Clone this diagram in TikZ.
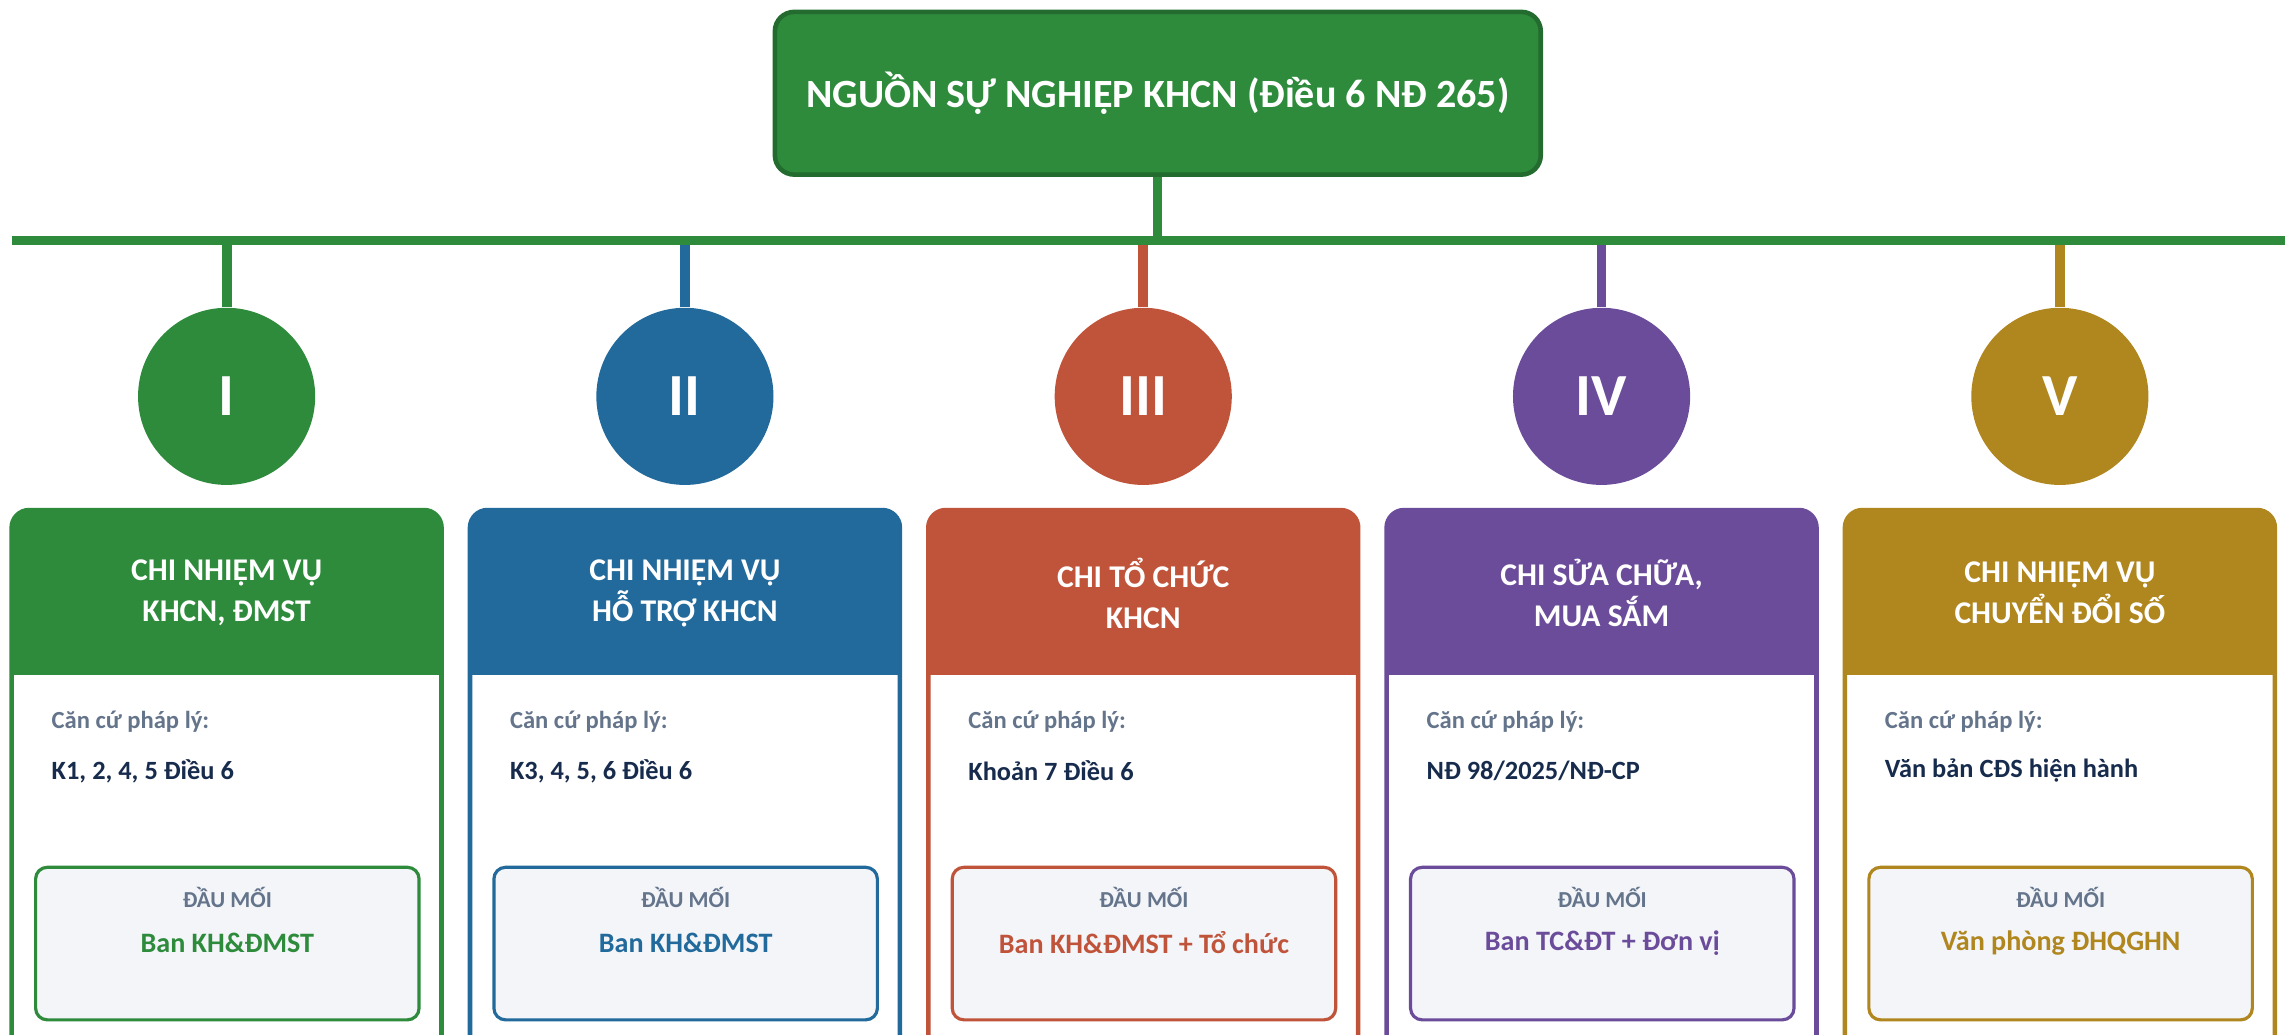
\documentclass[tikz,border=0pt]{standalone}
\usepackage{fontspec}
\setmainfont{Carlito}
\definecolor{cgreen}{HTML}{2E8B3C}
\definecolor{cgreendark}{HTML}{236B2E}
\definecolor{cblue}{HTML}{226A9B}
\definecolor{cred}{HTML}{C0543A}
\definecolor{cpurple}{HTML}{6B4C9A}
\definecolor{cgold}{HTML}{B0861E}
\definecolor{slate}{HTML}{64748B}
\definecolor{navy}{HTML}{172B4D}
\definecolor{boxbg}{HTML}{F3F5F9}
\tikzset{
  titlebox/.style={draw=cgreendark, fill=cgreen, line width=1.3pt, rounded corners=5.5pt,
    minimum width=217.9pt, minimum height=46.3pt, text=white,
    font=\bfseries\fontsize{11.4}{13.7}\selectfont},
  busline/.style={cgreen, line width=2.6pt},
  stubline/.style={line width=2.8pt},
  numcircle/.style={circle, minimum size=50.4pt, inner sep=0pt, text=white,
    font=\bfseries\fontsize{17}{20}\selectfont},
  headtext/.style={text=white, align=center, font=\bfseries\fontsize{9}{11.6}\selectfont},
  basislbl/.style={anchor=west, text=slate, inner sep=0pt, font=\bfseries\fontsize{7}{8.5}\selectfont},
  basistxt/.style={anchor=west, text=navy, inner sep=0pt, font=\bfseries\fontsize{7.5}{9}\selectfont},
  dmbox/.style={fill=boxbg, line width=0.9pt, rounded corners=3.3pt,
    minimum width=109.1pt, minimum height=43.4pt, inner sep=0pt},
  dmlbl/.style={text=slate, inner sep=0pt, font=\bfseries\fontsize{6.5}{8}\selectfont},
  dmtxt/.style={inner sep=0pt, font=\bfseries\fontsize{8}{9.6}\selectfont},
}
% #1 id, #2 x centre, #3 colour, #4 header, #5 basis, #6 contact, #7 numeral
\newcommand\cardblock[7]{%
  \fill[#3, rounded corners=5pt] ({#2-147.5},350) rectangle ({#2+147.5},780);
  \fill[white] ({#2-146},463) rectangle ({#2+146},780);
  \draw[#3, line width=1.3pt, rounded corners=5pt] ({#2-147.5},350) rectangle ({#2+147.5},780);
  \node[headtext] (h#1) at (#2,407) {#4};
  \node[basislbl] (bl#1) at ({#2-120.5},495) {Căn cứ pháp lý:};
  \node[basistxt] (bt#1) at ({#2-120.5},529) {#5};
  \node[dmbox, draw=#3] (m#1) at ({#2+0.5},647.5) {};
  \node[dmlbl] (ml#1) at ({#2+0.5},616) {ĐẦU MỐI};
  \node[dmtxt, text=#3] (mt#1) at ({#2+0.5},647) {#6};
  \node[numcircle, fill=#3] (c#1) at (#2,272) {#7};
  \draw[stubline, #3] (c#1.north) -- (c#1.north |- busL);
}
\begin{document}
\begin{tikzpicture}[x=0.014573cm, y=-0.014573cm]
\useasboundingbox (0,0) rectangle (1568,710);
\clip (0,0) rectangle (1568,710);
\coordinate (busL) at (8,165);
\coordinate (busR) at (1570,165);
\node[titlebox] (title) at (794.5,64) {NGUỒN SỰ NGHIỆP KHCN (Điều 6 NĐ 265)};
\cardblock{1}{155.5}{cgreen}{CHI NHIỆM VỤ\\KHCN, ĐMST}{K1, 2, 4, 5 Điều 6}{Ban KH\&ĐMST}{I}
\cardblock{2}{470}{cblue}{CHI NHIỆM VỤ\\HỖ TRỢ KHCN}{K3, 4, 5, 6 Điều 6}{Ban KH\&ĐMST}{II}
\cardblock{3}{784.5}{cred}{CHI TỔ CHỨC\\KHCN}{Khoản 7 Điều 6}{Ban KH\&ĐMST + Tổ chức}{III}
\cardblock{4}{1099}{cpurple}{CHI SỬA CHỮA,\\MUA SẮM}{NĐ 98/2025/NĐ-CP}{Ban TC\&ĐT + Đơn vị}{IV}
\cardblock{5}{1413.5}{cgold}{CHI NHIỆM VỤ\\CHUYỂN ĐỔI SỐ}{Văn bản CĐS hiện hành}{Văn phòng ĐHQGHN}{V}
\draw[busline] (busL) -- (busR);
\draw[busline] (title.south) -- (title.south |- busL);
\end{tikzpicture}
\end{document}
